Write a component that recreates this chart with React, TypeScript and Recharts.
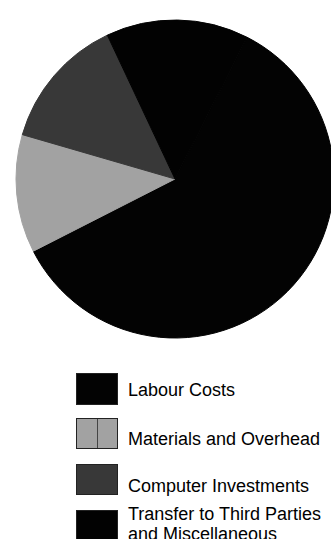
import React from 'react';
import { PieChart, Pie, Cell, Legend } from 'recharts';

const categories = [
  'Labour Costs',
  'Materials and Overhead',
  'Computer Investments',
  'Transfer to Third Parties and Miscellaneous',
];
const labelLines = [
  ['Labour Costs'],
  ['Materials and Overhead'],
  ['Computer Investments'],
  ['Transfer to Third Parties', 'and Miscellaneous'],
];
const shares = [60, 12, 13.5, 14.5];
const fills = ['#030303', '#a2a2a2', '#383838', '#020202'];

const data = categories.map((name, i) => ({ name, value: shares[i] }));

// legend rows (page pixels)
const swatchTops = [373, 418, 464, 510];
const textTops = [380, 429, 476, 504];

function LegendBox(): JSX.Element {
  return (
    <div style={{ position: 'relative', width: 331, height: 539, fontFamily: '"Liberation Sans", Arial, sans-serif', fontSize: 18, color: '#000' }}>
      {categories.map((name, i) => (
        <React.Fragment key={name}>
          <div
            style={{
              position: 'absolute',
              left: 76,
              top: swatchTops[i],
              width: 42,
              height: i === 0 ? 32 : 31,
              background: fills[i],
              border: '1px solid #222',
              boxSizing: 'border-box',
            }}
          >
            {i === 1 && (
              <div style={{ position: 'absolute', left: 20, top: 0, width: 1, height: '100%', background: '#444' }} />
            )}
          </div>
          <div style={{ position: 'absolute', left: 128, top: textTops[i], lineHeight: '20px', whiteSpace: 'nowrap' }}>
            {labelLines[i].map((t) => (
              <div key={t}>{t}</div>
            ))}
          </div>
        </React.Fragment>
      ))}
    </div>
  );
}

export default function App(): JSX.Element {
  return (
    <div style={{ position: 'fixed', left: 0, top: 0, width: 331, height: 539, background: '#fff', overflow: 'hidden' }}>
      <PieChart width={331} height={539}>
        <Pie
          data={data}
          dataKey="value"
          nameKey="name"
          cx={170}
          cy={174}
          outerRadius={159}
          startAngle={63}
          endAngle={-297}
          isAnimationActive={false}
        >
          {data.map((d, i) => (
            <Cell key={d.name} fill={fills[i]} stroke={fills[i]} strokeWidth={1} />
          ))}
        </Pie>
        <Legend
          content={() => <LegendBox />}
          wrapperStyle={{ position: 'absolute', left: 0, top: 0, width: 331, height: 539 }}
        />
      </PieChart>
    </div>
  );
}
